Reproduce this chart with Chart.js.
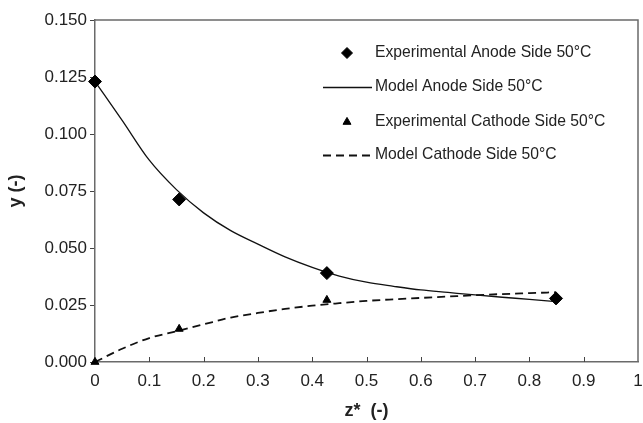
<!DOCTYPE html>
<html>
<head>
<meta charset="utf-8">
<script src="https://cdn.jsdelivr.net/npm/chart.js@4.4.1/dist/chart.umd.min.js"></script>
<style>
  html, body { margin: 0; padding: 0; background: #fff; }
  #wrap { width: 643px; height: 423px; }
</style>
</head>
<body>
<div id="wrap"><canvas id="c" width="643" height="423"></canvas></div>
<script>
// ---- data ----
const expZ = [0, 0.155, 0.427, 0.849];
const expAnode = [0.123, 0.0713, 0.039, 0.0279];
const expCathode = [0.000, 0.0145, 0.0272, 0.0279];

const modelZ = [0, 0.05, 0.1, 0.15, 0.2, 0.25, 0.3, 0.35, 0.4, 0.45, 0.5, 0.55, 0.6, 0.65, 0.7, 0.75, 0.8, 0.849];
const modelAnode = [0.123, 0.106, 0.0885, 0.0756, 0.0654, 0.0576, 0.0517, 0.0461, 0.0415, 0.0377, 0.035, 0.0332, 0.0316, 0.0305, 0.0294, 0.0284, 0.0275, 0.0265];
const modelCathode = [0.000, 0.0058, 0.0105, 0.0135, 0.0165, 0.0195, 0.0215, 0.0233, 0.0247, 0.0258, 0.0268, 0.0275, 0.0281, 0.0287, 0.0293, 0.0298, 0.0302, 0.0306];

const xTickLabels = ['0', '0.1', '0.2', '0.3', '0.4', '0.5', '0.6', '0.7', '0.8', '0.9', '1'];
const yTickLabels = ['0.000', '0.025', '0.050', '0.075', '0.100', '0.125', '0.150'];

const seriesLabels = [
  'Experimental Anode Side 50\u00B0C',
  'Model Anode Side 50\u00B0C',
  'Experimental Cathode Side 50\u00B0C',
  'Model Cathode Side 50\u00B0C'
];

const FONT = '"Liberation Sans", Arial, Helvetica, sans-serif';
const TXT = '#222';
const AXC = '#6a6a6a';

function pts(xs, ys) { return xs.map((x, i) => ({ x: x, y: ys[i] })); }

// frame (top/right) + inward x ticks
const framePlugin = {
  id: 'frame',
  afterDatasetsDraw(chart) {
    const { ctx, chartArea: a, scales } = chart;
    ctx.save();
    ctx.strokeStyle = AXC;
    ctx.lineWidth = 1.5;
    ctx.beginPath();
    ctx.moveTo(a.left, a.top); ctx.lineTo(a.right, a.top); ctx.lineTo(a.right, a.bottom);
    ctx.stroke();
    ctx.strokeStyle = '#444';
    ctx.lineWidth = 1;
    scales.x.ticks.forEach(t => {
      if (t.value <= 0 || t.value >= 1) return;
      const px = Math.round(scales.x.getPixelForValue(t.value)) + 0.5;
      ctx.beginPath();
      ctx.moveTo(px, a.bottom);
      ctx.lineTo(px, a.bottom - 5);
      ctx.stroke();
    });
    ctx.restore();
  }
};

// in-plot legend
const legendPlugin = {
  id: 'inLegend',
  afterDraw(chart) {
    const { ctx } = chart;
    const rows = [53, 87, 122, 155];
    const markX = 347, lineL = 323, lineR = 372, textX = 375;
    ctx.save();
    ctx.font = '15.7px ' + FONT;
    ctx.textBaseline = 'middle';
    ctx.textAlign = 'left';
    chart.data.datasets.forEach((ds, i) => {
      const y = rows[i];
      ctx.save();
      if (ds.showLine) {
        ctx.strokeStyle = ds.borderColor;
        ctx.lineWidth = ds.borderWidth;
        ctx.setLineDash(ds.borderDash || []);
        ctx.beginPath();
        ctx.moveTo(lineL, y + 0.5);
        ctx.lineTo(lineR, y + 0.5);
        ctx.stroke();
      } else {
        ctx.fillStyle = '#000';
        ctx.strokeStyle = '#000';
        Chart.helpers.drawPoint(ctx, { pointStyle: ds.pointStyle, radius: ds.legendRadius, borderWidth: 1 }, markX, y);
      }
      ctx.restore();
      ctx.fillStyle = TXT;
      ctx.fillText(ds.label, textX, y);
    });
    ctx.restore();
  }
};

new Chart(document.getElementById('c'), {
  type: 'scatter',
  data: {
    datasets: [
      { label: seriesLabels[0], data: pts(expZ, expAnode), pointStyle: 'rectRot', radius: 6.5, legendRadius: 5.5,
        backgroundColor: '#000', borderColor: '#000', borderWidth: 1, showLine: false, clip: false, order: 0 },
      { label: seriesLabels[1], data: pts(modelZ, modelAnode), showLine: true, borderColor: '#111', borderWidth: 1.3,
        pointRadius: 0, cubicInterpolationMode: 'monotone', clip: false, order: 2 },
      { label: seriesLabels[2], data: pts(expZ, expCathode), pointStyle: 'triangle', radius: 4.6, legendRadius: 4.6,
        backgroundColor: '#000', borderColor: '#000', borderWidth: 1, showLine: false, clip: false, order: 1 },
      { label: seriesLabels[3], data: pts(modelZ, modelCathode), showLine: true, borderColor: '#111', borderWidth: 1.8,
        borderDash: [8, 5], pointRadius: 0, cubicInterpolationMode: 'monotone', clip: false, order: 3 }
    ]
  },
  options: {
    responsive: false,
    animation: false,
    devicePixelRatio: 1,
    layout: { autoPadding: false, padding: { top: 20, right: 5, left: 0, bottom: 0 } },
    plugins: { legend: { display: false }, tooltip: { enabled: false } },
    scales: {
      x: {
        type: 'linear', min: 0, max: 1,
        afterFit(s) { s.height = 61; s.paddingRight = 0; s.paddingLeft = 0; },
        ticks: { stepSize: 0.1, autoSkip: false, maxRotation: 0, padding: 9, color: TXT,
          font: { family: FONT, size: 17 }, callback: (v, i) => xTickLabels[i] },
        grid: { display: true, drawOnChartArea: false, drawTicks: false },
        border: { display: true, color: AXC, width: 1.5 },
        title: { display: true, text: 'z*  (-)', color: TXT, font: { family: FONT, size: 18, weight: 'bold' },
          padding: { top: 0, bottom: 1 } }
      },
      y: {
        type: 'linear', min: 0, max: 0.15,
        afterFit(s) { s.width = 95; },
        ticks: { stepSize: 0.025, autoSkip: false, padding: 3, color: TXT,
          font: { family: FONT, size: 17 }, callback: (v, i) => yTickLabels[i] },
        grid: { display: true, drawOnChartArea: false, drawTicks: true, tickLength: 5, color: '#444' },
        border: { display: true, color: AXC, width: 1.5 },
        title: { display: true, text: 'y (-)', color: TXT, font: { family: FONT, size: 18, weight: 'bold' },
          padding: { top: 5, bottom: 0 } }
      }
    }
  },
  plugins: [framePlugin, legendPlugin]
});
</script>
</body>
</html>
